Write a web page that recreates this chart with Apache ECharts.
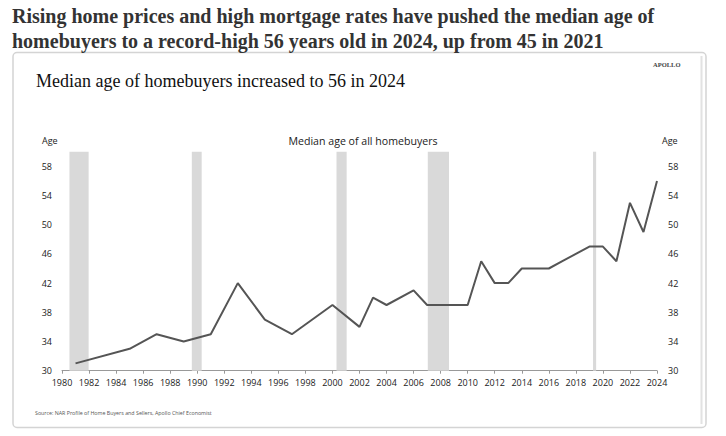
<!DOCTYPE html>
<html>
<head>
<meta charset="utf-8">
<script src="https://cdn.jsdelivr.net/npm/echarts@6/dist/echarts.min.js"></script>
<style>
html,body{margin:0;padding:0;background:#fff;}
#c{width:726px;height:436px;}
</style>
</head>
<body>
<div id="c"></div>
<script>
// ---- data ----
const years = [1981, 1985, 1987, 1989, 1991, 1993, 1995, 1997, 2000, 2002, 2003, 2004, 2006, 2007, 2008, 2009, 2010, 2011, 2012, 2013, 2014, 2015, 2016, 2017, 2018, 2019, 2020, 2021, 2022, 2023, 2024];
const medianAge = [31, 33, 35, 34, 35, 42, 37, 35, 39, 36, 40, 39, 41, 39, 39, 39, 39, 45, 42, 42, 44, 44, 44, 45, 46, 47, 47, 45, 53, 49, 56];
const recessionStart = [1980.55, 1989.6, 2000.3, 2007.05, 2019.27];
const recessionEnd = [1981.97, 1990.33, 2001.05, 2008.62, 2019.5];
const yTicks = [30, 34, 38, 42, 46, 50, 54, 58];

const mainTitle = ['Rising home prices and high mortgage rates have pushed the median age of', 'homebuyers to a record-high 56 years old in 2024, up from 45 in 2021'];
const chartTitle = 'Median age of homebuyers increased to 56 in 2024';
const seriesName = 'Median age of all homebuyers';
const sourceText = 'Source: NAR Profile of Home Buyers and Sellers, Apollo Chief Economist';

const chart = echarts.init(document.getElementById('c'), null, {renderer: 'svg'});
const sans = '"Open Sans", "Noto Sans", sans-serif';
const serif = '"Liberation Serif", "DejaVu Serif", serif';

const yLabel = v => yTicks.indexOf(v) >= 0 ? String(v) : '';

chart.setOption({
  animation: false,
  backgroundColor: '#fff',
  graphic: [
    {type: 'rect', shape: {x: 13, y: 52.5, width: 693, height: 375, r: 4}, style: {fill: '#fff', stroke: '#d4d4d4', lineWidth: 1.5}, z: -10},
    {type: 'rect', shape: {x: 700.5, y: 56, width: 2, height: 368}, style: {fill: '#e2e2e2'}, z: -9},
    {type: 'text', left: 12, top: 3, style: {text: mainTitle.join('\n'), font: 'bold 20px ' + serif, fill: '#333', lineHeight: 25}},
    {type: 'text', left: 36, top: 72, style: {text: chartTitle, font: '18px ' + serif, fill: '#111'}},
    {type: 'text', left: 653, top: 61, style: {text: 'APOLLO', font: 'bold 6.5px ' + serif, fill: '#444'}},
    {type: 'text', left: 42, top: 136, style: {text: 'Age', font: '9px ' + sans, fill: '#222'}},
    {type: 'text', left: 662, top: 136, style: {text: 'Age', font: '9px ' + sans, fill: '#222'}},
    {type: 'text', left: 'center', top: 135.5, style: {text: seriesName, font: '10.6px ' + sans, fill: '#222'}},
    {type: 'text', left: 35, top: 410, style: {text: sourceText, font: '5.3px ' + sans, fill: '#555'}}
  ],
  grid: {left: 62, right: 69, top: 151.7, bottom: 65.3},
  xAxis: {
    type: 'value', min: 1980, max: 2024, interval: 2,
    axisLine: {show: true, lineStyle: {color: '#999', width: 1}},
    axisTick: {show: true, length: 3, lineStyle: {color: '#999'}},
    axisLabel: {color: '#222', fontSize: 9, fontFamily: sans, margin: 7, formatter: v => String(v)},
    splitLine: {show: false}
  },
  yAxis: [
    {type: 'value', min: 30, max: 60, interval: 4, position: 'left',
     axisLine: {show: false}, axisTick: {show: false}, splitLine: {show: false},
     axisLabel: {color: '#222', fontSize: 9, fontFamily: sans, margin: 10, formatter: yLabel}},
    {type: 'value', min: 30, max: 60, interval: 4, position: 'right',
     axisLine: {show: false}, axisTick: {show: false}, splitLine: {show: false},
     axisLabel: {color: '#222', fontSize: 9, fontFamily: sans, margin: 11, formatter: yLabel}}
  ],
  series: [
    {
      name: seriesName, type: 'line', yAxisIndex: 0,
      data: years.map((y, i) => [y, medianAge[i]]),
      symbol: 'none', lineStyle: {color: '#555', width: 2}, z: 5,
      markArea: {
        silent: true, itemStyle: {color: '#d9d9d9'},
        data: recessionStart.map((s, i) => [{xAxis: s, yAxis: 60}, {xAxis: recessionEnd[i], yAxis: 30}])
      }
    }
  ]
});
</script>
</body>
</html>
